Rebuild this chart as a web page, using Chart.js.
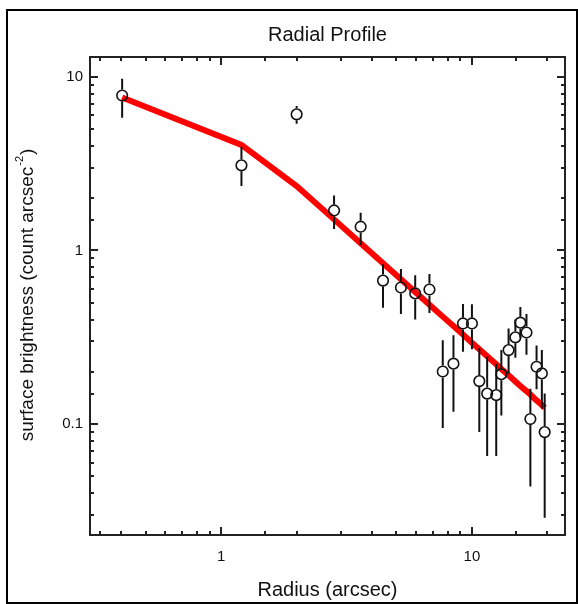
<!DOCTYPE html>
<html>
<head>
<meta charset="utf-8">
<script src="https://cdn.jsdelivr.net/npm/chart.js@4.4.0/dist/chart.umd.min.js"></script>
<style>
  html, body { margin: 0; padding: 0; background: #fff; }
  canvas { display: block; }
</style>
</head>
<body>
<canvas id="grafico" width="578" height="604"></canvas>
<script>
// dados do perfil radial
var raio = [0.403, 1.205, 2.0, 2.82, 3.60, 4.42, 5.21, 5.94, 6.77, 7.65, 8.44, 9.21, 10.0,
    10.7, 11.5, 12.5, 13.1, 14.0, 14.9, 15.6, 16.5, 17.1, 18.1, 19.0, 19.5];
var brilho = [7.8, 3.09, 6.08, 1.70, 1.37, 0.671, 0.612, 0.566, 0.596, 0.201, 0.223, 0.380, 0.380,
    0.177, 0.150, 0.147, 0.194, 0.267, 0.316, 0.384, 0.337, 0.107, 0.214, 0.196, 0.090];
var erroAlto = [9.75, 3.94, 6.78, 2.07, 1.65, 0.834, 0.783, 0.721, 0.733, 0.304, 0.325, 0.492, 0.49,
    0.274, 0.244, 0.223, 0.267, 0.355, 0.40, 0.472, 0.431, 0.16, 0.284, 0.267, 0.150];
var erroBaixo = [5.81, 2.35, 5.37, 1.33, 1.07, 0.468, 0.431, 0.400, 0.436, 0.095, 0.118, 0.261, 0.27,
    0.090, 0.0655, 0.0655, 0.112, 0.195, 0.241, 0.312, 0.251, 0.0437, 0.159, 0.123, 0.0289];
// modelo (linha vermelha)
var modelo = [7.6, 4.05, 2.35, 1.51, 1.10, 0.845, 0.683, 0.577, 0.487, 0.416, 0.367, 0.328, 0.294,
    0.270, 0.246, 0.221, 0.208, 0.191, 0.176, 0.166, 0.155, 0.148, 0.137, 0.129, 0.124];

var titulo = 'Radial Profile';
var tituloX = 'Radius (arcsec)';
var tituloY = 'surface brightness (count arcsec';
var expoenteY = '-2';

var fonte = '"Liberation Sans", Arial, Helvetica, sans-serif';
var corTexto = '#111';

function ehPotencia(v) {
    var l = Math.log10(v);
    return Math.abs(l - Math.round(l)) < 1e-6;
}

function rotulo(v) {
    if (!ehPotencia(v)) return '';
    return v >= 1 ? v.toFixed(0) : v.toFixed(1);
}

var pontos = [];
var linha = [];
for (var i = 0; i < raio.length; i++) {
    pontos.push({ x: raio[i], y: brilho[i] });
    linha.push({ x: raio[i], y: modelo[i] });
}

// moldura, ticks para dentro, titulos e barras de erro
var molduraPlugin = {
    id: 'moldura',
    afterDatasetDraw: function (chart, args) {
        if (args.index !== 0) return;
        var ctx = chart.ctx;
        var sx = chart.scales.x, sy = chart.scales.y;
        var r = 6;
        ctx.save();
        ctx.strokeStyle = '#111';
        ctx.lineWidth = 2;
        for (var i = 0; i < raio.length; i++) {
            var px = sx.getPixelForValue(raio[i]);
            var pc = sy.getPixelForValue(brilho[i]);
            var ph = sy.getPixelForValue(erroAlto[i]);
            var pl = sy.getPixelForValue(erroBaixo[i]);
            ctx.beginPath();
            if (ph < pc - r) { ctx.moveTo(px, ph); ctx.lineTo(px, pc - r); }
            if (pl > pc + r) { ctx.moveTo(px, pc + r); ctx.lineTo(px, pl); }
            ctx.stroke();
        }
        ctx.restore();
    },
    afterDraw: function (chart) {
        var ctx = chart.ctx;
        var a = chart.chartArea;
        var sx = chart.scales.x, sy = chart.scales.y;
        ctx.save();

        // borda externa
        ctx.strokeStyle = '#000';
        ctx.lineWidth = 2;
        ctx.strokeRect(7, 10, 570, 593);

        // moldura do grafico
        ctx.strokeStyle = '#222';
        ctx.lineWidth = 2;
        ctx.strokeRect(a.left, a.top, a.right - a.left, a.bottom - a.top);

        ctx.beginPath();
        sx.ticks.forEach(function (t) {
            if (t.value <= sx.min || t.value >= sx.max) return;
            var p = Math.round(sx.getPixelForValue(t.value));
            var len = ehPotencia(t.value) ? 8 : 4;
            ctx.moveTo(p, a.bottom); ctx.lineTo(p, a.bottom - len);
            ctx.moveTo(p, a.top); ctx.lineTo(p, a.top + len);
        });
        sy.ticks.forEach(function (t) {
            if (t.value <= sy.min || t.value >= sy.max) return;
            var p = Math.round(sy.getPixelForValue(t.value));
            var len = ehPotencia(t.value) ? 8 : 4;
            ctx.moveTo(a.left, p); ctx.lineTo(a.left + len, p);
            ctx.moveTo(a.right, p); ctx.lineTo(a.right - len, p);
        });
        ctx.stroke();

        // titulos
        var cx = (a.left + a.right) / 2;
        ctx.fillStyle = corTexto;
        ctx.textAlign = 'center';
        ctx.textBaseline = 'middle';
        ctx.font = '20px ' + fonte;
        ctx.fillText(titulo, cx, 35);
        ctx.fillText(tituloX, cx, 590);

        // titulo Y com expoente
        ctx.translate(28, (a.top + a.bottom) / 2);
        ctx.rotate(-Math.PI / 2);
        ctx.font = '19px ' + fonte;
        var w1 = ctx.measureText(tituloY).width;
        var w3 = ctx.measureText(')').width;
        ctx.font = '11px ' + fonte;
        var w2 = ctx.measureText(expoenteY).width;
        var x0 = -(w1 + w2 + w3) / 2;
        ctx.textAlign = 'left';
        ctx.font = '19px ' + fonte;
        ctx.fillText(tituloY, x0, 0);
        ctx.font = '11px ' + fonte;
        ctx.fillText(expoenteY, x0 + w1 + 1, -8);
        ctx.font = '19px ' + fonte;
        ctx.fillText(')', x0 + w1 + w2 + 2, 0);
        ctx.restore();
    }
};

var ctx = document.getElementById('grafico');
var Grafico = new Chart(ctx, {
    type: 'scatter',
    data: {
        datasets: [{
            type: 'line',
            label: 'modelo',
            data: linha,
            borderColor: '#ff0000',
            borderWidth: 6,
            pointRadius: 0,
            fill: false,
            tension: 0,
            order: 2
        },
        {
            label: 'dados',
            data: pontos,
            pointRadius: 5.3,
            pointBorderWidth: 1.6,
            pointBorderColor: '#111',
            pointBackgroundColor: 'rgba(0,0,0,0)',
            order: 1
        }]
    },
    options: {
        responsive: false,
        animation: false,
        devicePixelRatio: 1,
        layout: { padding: { top: 57, right: 6, bottom: 0, left: 0 } },
        plugins: {
            legend: { display: false },
            tooltip: { enabled: false },
            title: { display: false }
        },
        scales: {
            x: {
                type: 'logarithmic',
                min: 0.33,
                max: 23.5,
                grid: { display: false, drawTicks: false },
                border: { display: false },
                ticks: {
                    autoSkip: false,
                    maxRotation: 0,
                    padding: 13,
                    color: corTexto,
                    font: { size: 15, family: fonte },
                    callback: rotulo
                },
                afterFit: function (s) { s.height = 69; }
            },
            y: {
                type: 'logarithmic',
                min: 0.023,
                max: 13,
                grid: { display: false, drawTicks: false },
                border: { display: false },
                ticks: {
                    autoSkip: false,
                    padding: 7,
                    color: corTexto,
                    font: { size: 15, family: fonte },
                    callback: rotulo
                },
                afterFit: function (s) { s.width = 90; }
            }
        }
    },
    plugins: [molduraPlugin]
});
</script>
</body>
</html>
